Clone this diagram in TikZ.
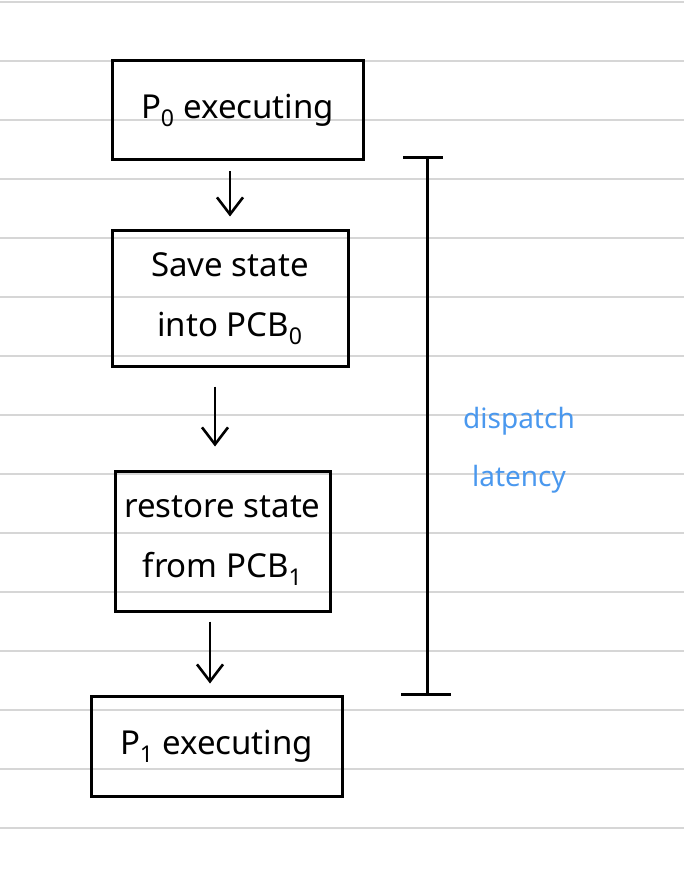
\documentclass[tikz,border=0pt]{standalone}
\usepackage{fontspec}
\setmainfont{Noto Sans}
\usetikzlibrary{arrows.meta}
\definecolor{inkblue}{RGB}{74,152,238}
\definecolor{ruleline}{RGB}{214,214,214}
\tikzset{
	stagebox/.style={draw, line width=3pt, align=center, inner sep=0pt, font=\fontsize{33}{60}\selectfont},
	flow/.style={line width=2.6pt, -{Straight Barb[length=17pt,width=26pt,line width=2.6pt]}},
	bracket/.style={line width=3pt},
}
\begin{document}
\begin{tikzpicture}[x=1pt,y=-1pt]
		\useasboundingbox (0,0) rectangle (684,882);
		\foreach \k in {0,...,14}
			\draw[ruleline, line width=1.6pt] (0,2+59*\k) -- (684,2+59*\k);

		\draw (237.5,110.5) node [stagebox, minimum width=251pt, minimum height=99pt] (p0) {P\textsubscript{0} executing};
		\draw (230,298.5) node [stagebox, minimum width=236pt, minimum height=135pt] (save) {Save state\\into PCB\textsubscript{0}};
		\draw (222.5,541) node [stagebox, minimum width=215pt, minimum height=140pt] (restore) {restore state\\from PCB\textsubscript{1}};
		\draw (216.5,746) node [stagebox, minimum width=251pt, minimum height=100pt] (p1) {P\textsubscript{1} executing};

		\draw[flow, shorten <=10pt, shorten >=13pt] (p0.south -| save.north) -- (save.north);
		\draw[flow, shorten <=19pt, shorten >=23pt] ([xshift=-15pt]save.south) -- ([xshift=-7.5pt]restore.north);
		\draw[flow, shorten <=9pt, shorten >=11pt] ([xshift=-12.5pt]restore.south) -- ([xshift=-6.5pt]p1.north);

		\coordinate (top) at (427,158);
		\coordinate (bot) at (427,694);
		\draw[bracket] (top) -- (bot);
		\draw[bracket] ([xshift=-24pt]top) -- ([xshift=16pt]top);
		\draw[bracket] ([xshift=-26pt]bot) -- ([xshift=24pt]bot);

		\node[text=inkblue, align=center, font=\fontsize{28}{58}\selectfont] (latency) at (519,450) {dispatch\\latency};
	\end{tikzpicture}
\end{document}
